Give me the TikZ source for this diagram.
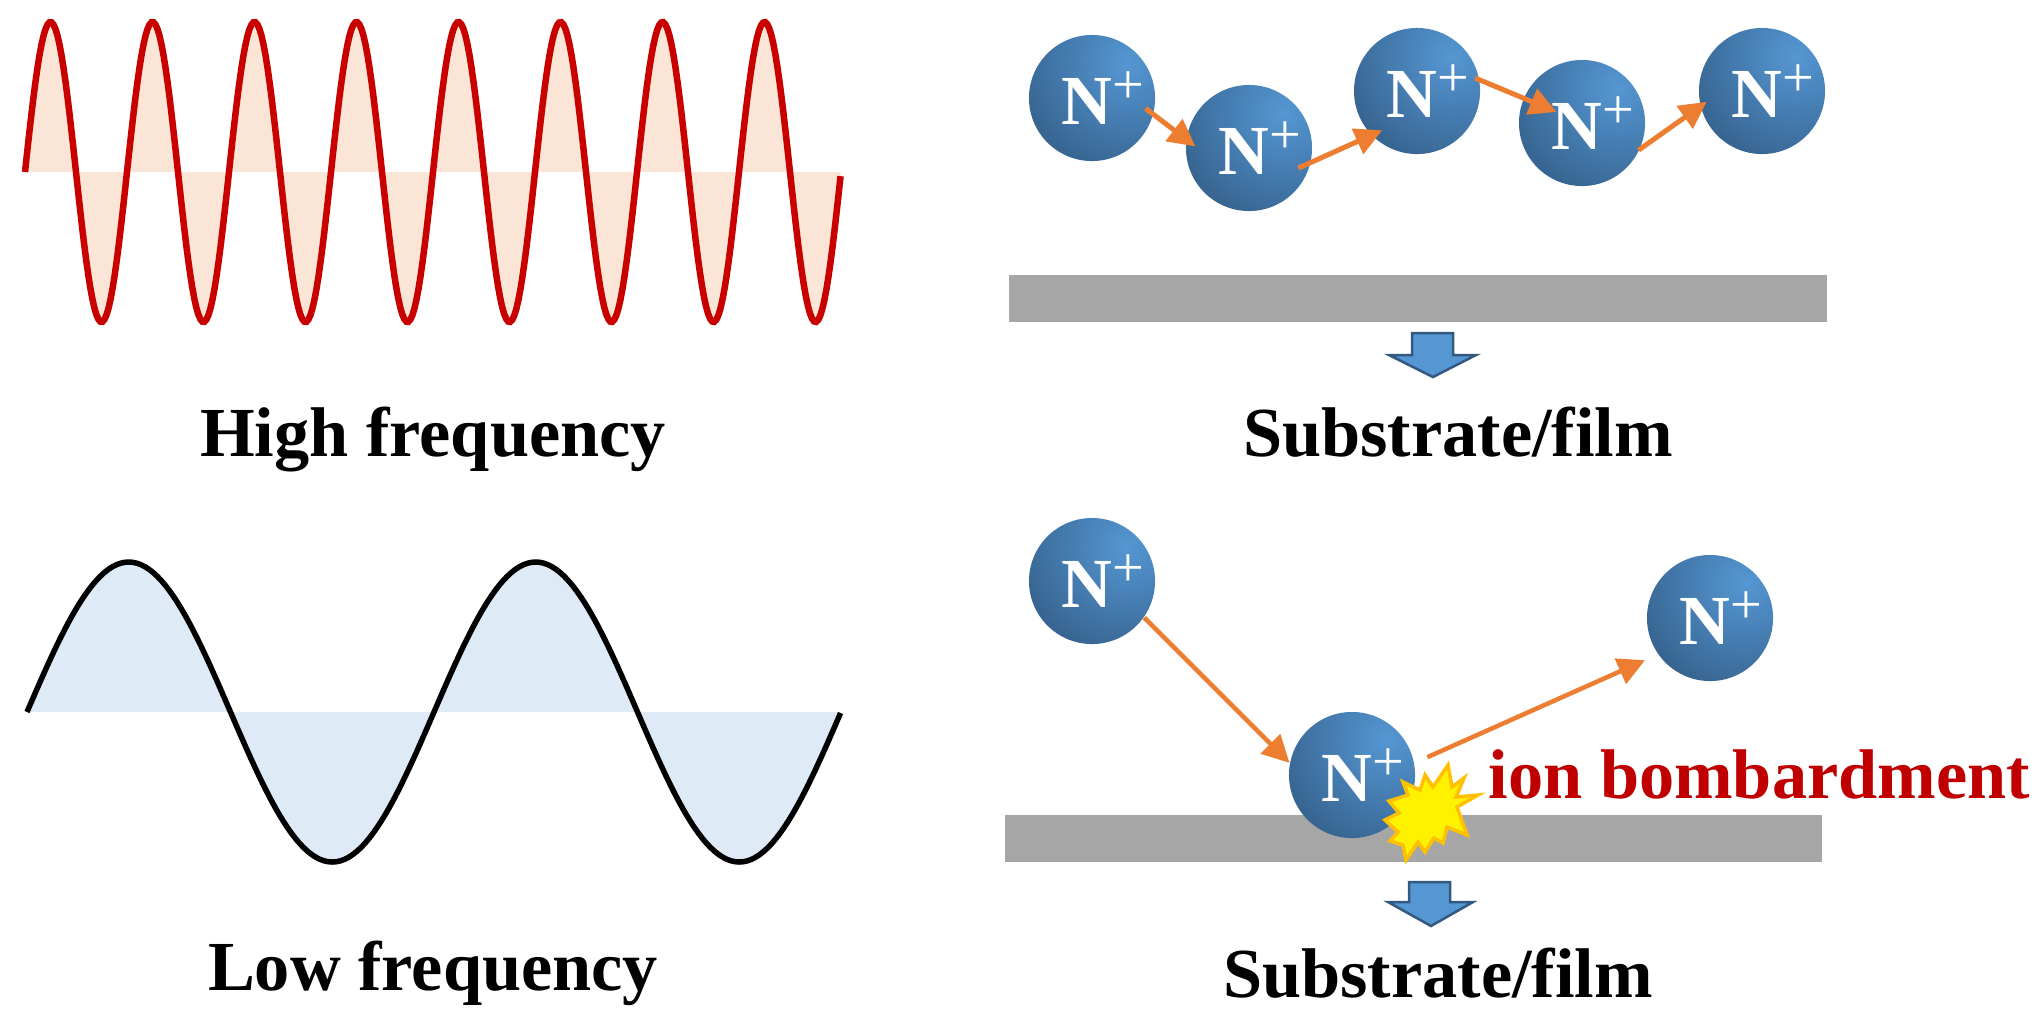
\documentclass[tikz,border=0pt]{standalone}
\usepackage{fontspec}
\setmainfont{Liberation Serif}
\usetikzlibrary{arrows.meta}

\definecolor{ionlight}{HTML}{5597D3}
\definecolor{iondark}{HTML}{2F5278}
\definecolor{ionshadow}{HTML}{1A3350}
\definecolor{ionorange}{HTML}{ED7D31}
\definecolor{barfill}{HTML}{A6A6A6}
\definecolor{hffill}{HTML}{FBE5D6}
\definecolor{lffill}{HTML}{DEEBF7}
\definecolor{hfline}{HTML}{C80000}
\definecolor{ionred}{HTML}{C00000}
\definecolor{burstedge}{HTML}{FFC000}

\newcommand{\ionlabel}{\hspace*{.22cm}\textbf{N}\raisebox{6pt}{\fontsize{16}{16}\selectfont +}}

\tikzset{
  ion/.style={circle, minimum size=1.26cm, inner sep=0pt, text=white,
    font=\fontsize{20}{24}\selectfont,
    path picture={\shade[inner color=ionlight, outer color=ionshadow]
      ([xshift=.35cm,yshift=.35cm]path picture bounding box.center) circle (2.2cm);}},
  ionarrow/.style={-{Triangle[length=.27cm,width=.27cm]}, ionorange, line width=.05cm},
  ionpath/.style={-{Triangle[length=.27cm,width=.27cm]}, ionorange, line width=.045cm},
  caption/.style={anchor=base, font=\fontsize{20}{24}\selectfont\bfseries},
  bar/.style={fill=barfill},
  downarrow/.style={fill=ionlight, draw=iondark!90!ionlight, line width=.025cm, miter limit=10},
  burst/.style={fill=yellow, draw=burstedge, line width=.035cm, miter limit=10}
}

\begin{document}
\begin{tikzpicture}[x=.01cm, y=-.01cm]
\useasboundingbox (0,0) rectangle (2043,1026);
% High frequency wave
\fill[hffill] plot[domain=0:8, samples=401] ({25+102*\x},{172-150*sin(360*\x)}) -- (841,172) -- (25,172) -- cycle;
\draw[hfline, line width=.065cm] plot[domain=0:8, samples=401] ({25+102*\x},{172-150*sin(360*\x)});
% Low frequency wave
\fill[lffill] plot[domain=0:2, samples=201] ({27+407*\x},{712-150*sin(360*\x)}) -- (841,712) -- (27,712) -- cycle;
\draw[black, line width=.055cm] plot[domain=0:2, samples=201] ({27+407*\x},{712-150*sin(360*\x)});
% Substrates
\fill[bar] (1009,275) rectangle (1827,322);
\fill[bar] (1005,815) rectangle (1822,862);
% Upper row of ions
\node[ion] (ionA) at (1092,98) {\ionlabel};
\node[ion] (ionB) at (1249,148) {\ionlabel};
\node[ion] (ionC) at (1417,91) {\ionlabel};
\node[ion] (ionD) at (1582,123) {\ionlabel};
\node[ion] (ionE) at (1762,91) {\ionlabel};
\draw[ionarrow, shorten <=-.1cm, shorten >=-.12cm] (ionA.-15) -- (ionB.172);
\draw[ionarrow, shorten <=-.14cm, shorten >=-.12cm] (ionB.-13) -- (ionC.224);
\draw[ionarrow, shorten <=-.05cm, shorten >=-.36cm] (ionC.10) -- (ionD.157);
\draw[ionarrow, shorten <=-.02cm, shorten >=-.08cm] (ionD.-24) -- (ionE.194);
% Lower ions
\node[ion] (ionF) at (1092,581) {\ionlabel};
\node[ion] (ionG) at (1352,775) {\ionlabel};
\node[ion] (ionH) at (1710,618) {\ionlabel};
\draw[ionpath] (ionF.-35) -- (ionG.169);
\draw[ionpath, shorten <=.14cm, shorten >=.14cm] (ionG.11) -- (ionH.215);
% Impact
\draw[burst] (1448,765) -- (1452,787) -- (1464,778) -- (1456,797) -- (1478,795) -- (1457,807)
  -- (1467,835) -- (1447,827) -- (1443,843) -- (1434,838) -- (1425,852) -- (1418,842)
  -- (1406,860) -- (1403,845) -- (1390,841) -- (1398,832) -- (1385,820) -- (1399,813)
  -- (1389,801) -- (1408,795) -- (1403,782) -- (1420,790) -- (1425,775) -- (1433,787) -- cycle;
% Down arrows
\draw[downarrow] (1412,333) -- (1453,333) -- (1453,355) -- (1476,355) -- (1433,377) -- (1389,355) -- (1412,355) -- cycle;
\draw[downarrow] (1409,882) -- (1450,882) -- (1450,902) -- (1473,902) -- (1431,926) -- (1388,902) -- (1409,902) -- cycle;
% Labels
\node[caption] (high) at (433,456) {High frequency};
\node[caption] (low) at (433,990) {Low frequency};
\node[caption] (filmtop) at (1458,456) {Substrate/film};
\node[caption] (filmbottom) at (1438,997) {Substrate/film};
\node[caption, anchor=base west, text=ionred, inner sep=0pt] (bombard) at (1488,798) {ion bombardment};
\end{tikzpicture}
\end{document}
